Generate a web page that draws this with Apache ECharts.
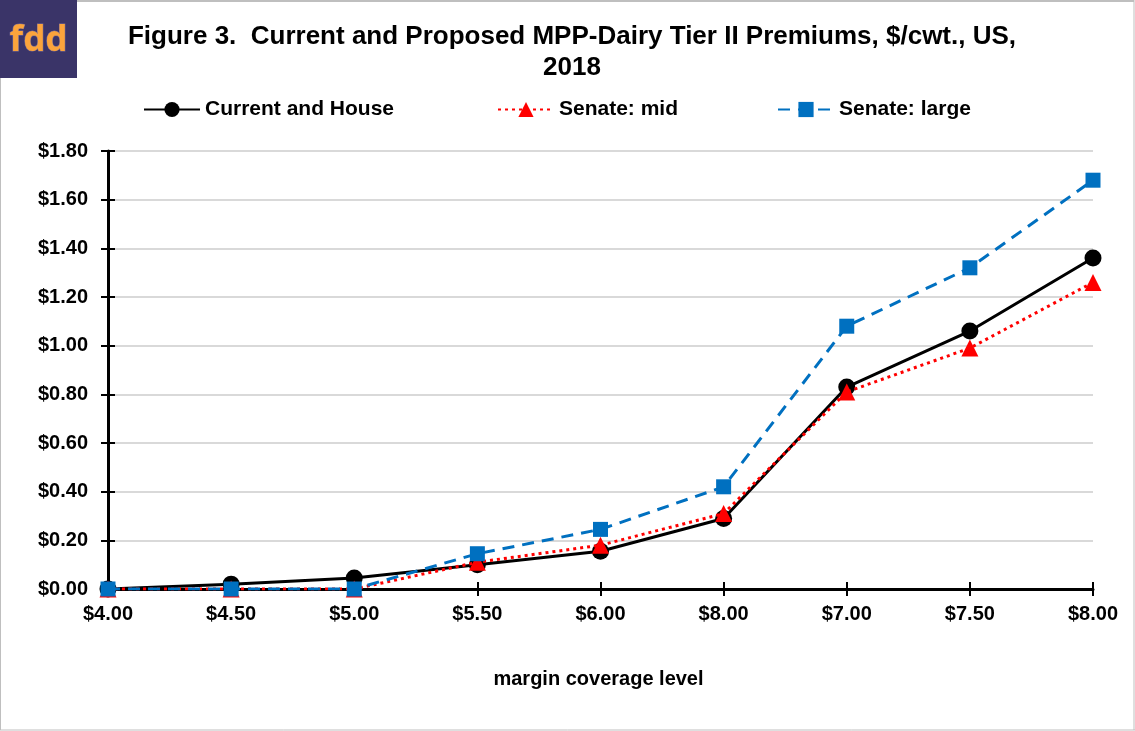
<!DOCTYPE html>
<html>
<head>
<meta charset="utf-8">
<script src="https://cdn.jsdelivr.net/npm/echarts@6/dist/echarts.min.js"></script>
<style>
  html, body { margin: 0; padding: 0; background: #fff; }
  #chart { width: 1135px; height: 731px; }
</style>
</head>
<body>
<div id="chart"></div>
<script>
// Margin coverage levels (x axis categories, as labelled)
const categories = ['$4.00', '$4.50', '$5.00', '$5.50', '$6.00', '$8.00', '$7.00', '$7.50', '$8.00'];

// Tier II premiums, $/cwt.
const currentAndHouse = [0.00, 0.02, 0.045, 0.10, 0.155, 0.29, 0.83, 1.06, 1.36];
const senateMid       = [0.00, 0.00, 0.00, 0.11, 0.18, 0.31, 0.81, 0.99, 1.26];
const senateLarge     = [0.00, 0.00, 0.00, 0.145, 0.245, 0.42, 1.08, 1.32, 1.68];

const seriesNames = ['Current and House', 'Senate: mid', 'Senate: large'];

const FONT = '"Liberation Sans", Arial, sans-serif';

const chart = echarts.init(document.getElementById('chart'), null, { renderer: 'canvas' });

const legendText = { fontFamily: FONT, fontWeight: 'bold', fontSize: 21, color: '#000' };

function legendFor(name, left) {
  return {
    data: [name],
    left: left,
    top: 94,
    itemWidth: 56,
    itemHeight: 19,
    itemGap: 0,
    textStyle: legendText,
    selectedMode: false
  };
}

const option = {
  backgroundColor: '#ffffff',
  animation: false,
  title: {
    text: 'Figure 3.  Current and Proposed MPP-Dairy Tier II Premiums, $/cwt., US,\n2018',
    left: 567,
    textAlign: 'center',
    top: 16,
    textStyle: {
      fontFamily: FONT,
      fontWeight: 'bold',
      fontSize: 26,
      lineHeight: 31,
      color: '#000'
    }
  },
  legend: [
    legendFor(seriesNames[0], 138),
    legendFor(seriesNames[1], 492),
    legendFor(seriesNames[2], 772)
  ],
  grid: { left: 108, right: 42, top: 151, bottom: 142, containLabel: false },
  xAxis: [
    {
      type: 'category',
      data: categories,
      boundaryGap: false,
      position: 'bottom',
      axisLine: { lineStyle: { color: '#000', width: 3 } },
      axisTick: { show: true, inside: false, length: 7, lineStyle: { color: '#000', width: 2 } },
      axisLabel: { fontFamily: FONT, fontWeight: 'bold', fontSize: 20, color: '#000', margin: 15 },
      splitLine: { show: false },
      name: 'margin coverage level',
      nameLocation: 'middle',
      nameGap: 80,
      nameTextStyle: { fontFamily: FONT, fontWeight: 'bold', fontSize: 20, color: '#000', padding: [0, 4, 0, 0] }
    },
    {
      type: 'category',
      data: categories,
      boundaryGap: false,
      position: 'bottom',
      axisLine: { show: false },
      axisTick: { show: true, inside: true, length: 7, lineStyle: { color: '#000', width: 2 } },
      axisLabel: { show: false },
      splitLine: { show: false }
    }
  ],
  yAxis: [
    {
      type: 'value',
      min: 0,
      max: 1.8,
      interval: 0.2,
      axisLine: { show: true, lineStyle: { color: '#000', width: 3 } },
      axisTick: { show: true, inside: false, length: 7, lineStyle: { color: '#000', width: 2 } },
      axisLabel: {
        fontFamily: FONT, fontWeight: 'bold', fontSize: 20, color: '#000', margin: 20,
        formatter: v => '$' + v.toFixed(2)
      },
      splitLine: { show: true, lineStyle: { color: '#D9D9D9', width: 2 } }
    },
    {
      type: 'value',
      min: 0,
      max: 1.8,
      interval: 0.2,
      position: 'left',
      axisLine: { show: false },
      axisTick: { show: true, inside: true, length: 7, lineStyle: { color: '#000', width: 2 } },
      axisLabel: { show: false },
      splitLine: { show: false }
    }
  ],
  series: [
    {
      name: seriesNames[0],
      type: 'line',
      data: currentAndHouse,
      symbol: 'circle',
      symbolSize: 17,
      itemStyle: { color: '#000000' },
      lineStyle: { color: '#000000', width: 3 },
      z: 3
    },
    {
      name: seriesNames[1],
      type: 'line',
      data: senateMid,
      symbol: 'triangle',
      symbolSize: 17,
      itemStyle: { color: '#FF0000' },
      lineStyle: { color: '#FF0000', width: 3, type: [3, 4] },
      z: 4
    },
    {
      name: seriesNames[2],
      type: 'line',
      data: senateLarge,
      symbol: 'rect',
      symbolSize: 15,
      itemStyle: { color: '#0070C0' },
      lineStyle: { color: '#0070C0', width: 3, type: [12, 8] },
      z: 5
    }
  ],
  graphic: [
    // outer frame
    { type: 'line', shape: { x1: 77, y1: 1, x2: 1134, y2: 1 }, style: { stroke: '#BFBFBF', lineWidth: 2 }, silent: true },
    { type: 'line', shape: { x1: 1134, y1: 0, x2: 1134, y2: 730 }, style: { stroke: '#BFBFBF', lineWidth: 1 }, silent: true },
    { type: 'line', shape: { x1: 0, y1: 730, x2: 1135, y2: 730 }, style: { stroke: '#BFBFBF', lineWidth: 1 }, silent: true },
    { type: 'line', shape: { x1: 0.5, y1: 78, x2: 0.5, y2: 730 }, style: { stroke: '#BFBFBF', lineWidth: 1 }, silent: true },
    // fdd logo
    { type: 'rect', shape: { x: 0, y: 0, width: 77, height: 78 }, style: { fill: '#3A3468' }, silent: true },
    {
      type: 'text', x: 38.5, y: 41, silent: true,
      style: {
        text: 'fdd', fill: '#FBA43C', stroke: '#7A6C96', lineWidth: 1,
        font: 'bold 35px "Noto Sans", "DejaVu Sans", sans-serif',
        align: 'center', verticalAlign: 'middle'
      }
    }
  ]
};

chart.setOption(option);
</script>
</body>
</html>
